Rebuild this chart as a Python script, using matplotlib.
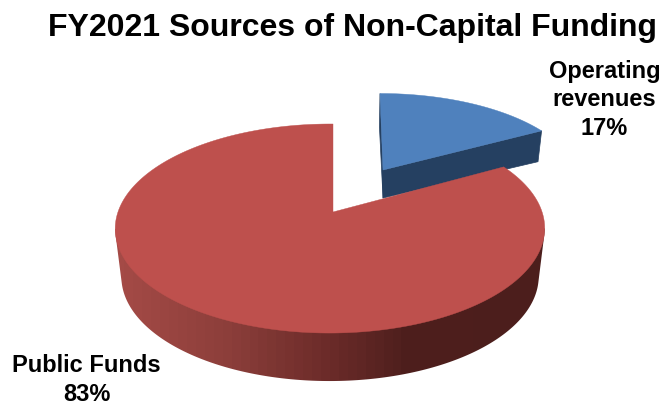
import numpy as np
import matplotlib
matplotlib.use("Agg")
import matplotlib.pyplot as plt
from matplotlib.patches import Polygon
from matplotlib.colors import LinearSegmentedColormap

# Funding shares in percent
categories = ["Operating\nrevenues", "Public Funds"]
shares = [17, 83]
title_text = "FY2021 Sources of Non-Capital Funding"

BLUE_TOP, BLUE_WALL = "#4f81bd", "#254061"
RED_TOP = "#be504d"
# Shading of the rim, going left to right across the pie
rim_cmap = LinearSegmentedColormap.from_list(
    "rim", [(0, "#a44a46"), (0.25, "#8d3f3b"), (0.5, "#6b2b29"),
            (0.68, "#4e1f1d"), (1, "#4c1e1c")], N=48)

plt.rcParams["font.family"] = ["Liberation Sans", "DejaVu Sans"]
fig = plt.figure(figsize=(6.6, 4.05), dpi=100)
ax = fig.add_axes([0, 0, 1, 1])
ax.axis("off")


def project(theta, view):
    """Perspective projection of unit-circle points at angle theta (radians)."""
    x0, y0, kx, ky, skew, c, d = view
    u, v = np.cos(theta), np.sin(theta)
    w = 1 + c * v + d * u
    return x0 + (kx * u + skew * v) / w, y0 - ky * v / w


def rim(start, stop, view, n=240):
    x, y = project(np.linspace(start, stop, n), view)
    return np.column_stack([x, y])


def apex(view):
    return np.array([[view[0], view[1]]])


def convex_hull(points):
    """Monotone-chain hull, used as the outline of the pie's visible side."""
    pts = sorted(map(tuple, points))

    def half(seq):
        out = []
        for p in seq:
            while len(out) > 1 and ((out[-1][0] - out[-2][0]) * (p[1] - out[-2][1])
                                    - (out[-1][1] - out[-2][1]) * (p[0] - out[-2][0])) <= 0:
                out.pop()
            out.append(p)
        return out[:-1]

    return np.array(half(pts) + half(pts[::-1]))


# Slice angles follow the shares, clockwise from twelve o'clock
boundary = np.pi / 2 - 2 * np.pi * shares[0] / sum(shares)
top_start, blue_end = np.pi / 2, boundary
red_start, red_end = boundary, boundary - 2 * np.pi * shares[1] / sum(shares)

# Camera parameters: apex x, apex y, x scale, y scale, skew, tilt terms
blue_top = (383, 170, 194, 86.3, -3.4, 0.128, 0.0)
blue_low = (383, 198, 190, 80, -4, 0.128, 0.0)
red_top = (333, 212, 212, 101.9, 0, 0.158, 0.014)
red_low = (333, 260, 206, 101.9, 0, 0.158, 0.014)

# Detached slice: cut walls first, face on top
wall_a = np.vstack([apex(blue_top), rim(blue_end, blue_end, blue_top, 1),
                    rim(blue_end, blue_end, blue_low, 1), apex(blue_low)])
wall_b = np.vstack([apex(blue_top), rim(top_start, top_start, blue_top, 1),
                    rim(top_start, top_start, blue_low, 1), apex(blue_low)])
ax.fill(*wall_a.T, color=BLUE_WALL, lw=0.5, zorder=2)
ax.fill(*wall_b.T, color=BLUE_WALL, lw=0.5, zorder=2)
blue_face = np.vstack([apex(blue_top), rim(top_start, blue_end, blue_top)])
ax.fill(*blue_face.T, color=BLUE_TOP, lw=0.3, zorder=3)

# Main slice: side shaded left to right and clipped to its outline, then the face
front = (-np.pi + 0.16, -0.16)
side_outline = convex_hull(np.vstack([rim(*front, red_top, 300), rim(*front, red_low, 300)]))
side_clip = Polygon(side_outline, closed=True, transform=ax.transData, fc="none", ec="none")
ax.add_patch(side_clip)
shade = ax.imshow(np.linspace(0, 1, 430)[None, :], cmap=rim_cmap, aspect="auto",
                  extent=(115, 545, 405, 0), zorder=4, interpolation="nearest")
shade.set_clip_path(side_clip)

upper = rim(red_start, red_end, red_top, 420)
red_face = np.vstack([apex(red_top), upper])
ax.fill(*red_face.T, color=RED_TOP, lw=0.3, zorder=5)

ax.set_xlim(0, 660)
ax.set_ylim(405, 0)

ax.text(353, 36, title_text, fontsize=23, fontweight="bold", ha="center",
        va="baseline", color="black", zorder=6)
label_style = dict(fontsize=17, fontweight="bold", ha="center", va="center",
                   color="black", linespacing=1.3, zorder=6)
ax.text(604.5, 100, f"{categories[0]}\n{shares[0]}%", **label_style)
ax.text(86.5, 380, f"{categories[1]}\n{shares[1]}%", **label_style)

fig.savefig("out.png", dpi=100, facecolor="white")
